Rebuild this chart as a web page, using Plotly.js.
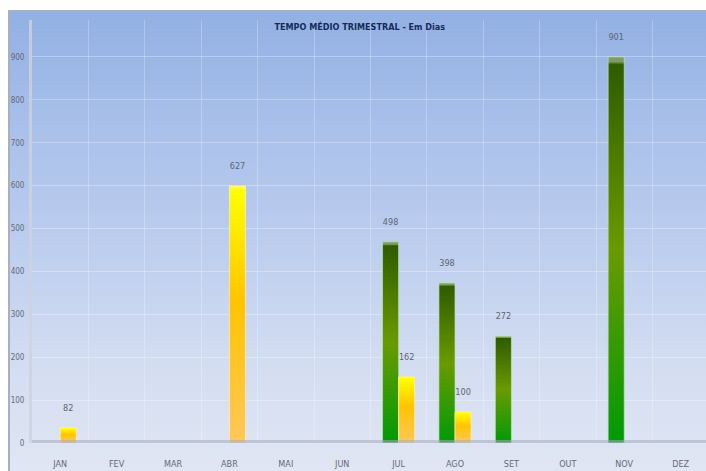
<!DOCTYPE html>
<html>
<head>
<meta charset="utf-8">
<script src="https://cdn.plot.ly/plotly-3.0.1.min.js"></script>
<style>
  html, body { margin:0; padding:0; background:#ffffff; width:706px; height:471px; overflow:hidden; }
  #frame { position:absolute; left:8px; top:10px; width:698px; height:461px;
    border-left:2px solid #a9b0bd; border-top:2px solid #a9b0bd; box-sizing:border-box;
    background: linear-gradient(to bottom, #92b0e3 0%, #a9c0ea 25%, #bccdee 50%, #d2dcf1 75%, #e0e6f3 100%); }
  #chart { position:absolute; left:-2px; top:-2px; width:698px; height:461px; }
</style>
</head>
<body>
<div id="frame"><div id="chart"></div></div>
<script>
// ---- data ----
const months = ['JAN','FEV','MAR','ABR','MAI','JUN','JUL','AGO','SET','OUT','NOV','DEZ'];
const greenValues  = [null, null, null, null, null, null, 469, 373, 249, null, 900, null];
const greenLabels  = ['', '', '', '', '', '', '498', '398', '272', '', '901', ''];
const yellowValues = [35, null, null, 599, null, null, 154, 72, null, null, null, null];
const yellowLabels = ['82', '', '', '627', '', '', '162', '100', '', '', '', ''];
const yTicks = [0, 100, 200, 300, 400, 500, 600, 700, 800, 900];

const narrow = 'Liberation Sans Narrow, DejaVu Sans Condensed, Arial Narrow, sans-serif';
const labelFont = {family:narrow, size:9, color:'#5e6470'};

const greenTrace = {
  type:'bar', x:months, y:greenValues, name:'verde',
  text: greenLabels.map(t => t ? t + '<br> ' : ''), textposition:'outside', cliponaxis:false,
  textfont: labelFont,
  marker:{color:'#4c8a00', line:{color:'rgba(190,225,190,0.7)', width:1}},
  hoverinfo:'x+y'
};
const yellowTrace = {
  type:'bar', x:months, y:yellowValues, name:'amarelo',
  text: yellowLabels.map(t => t ? t + '<br> ' : ''), textposition:'outside', cliponaxis:false,
  textfont: labelFont,
  marker:{color:'#ffc800', line:{color:'rgba(255,240,200,0.7)', width:1}},
  hoverinfo:'x+y'
};

const layout = {
  width:698, height:461,
  margin:{l:24, r:0, t:10, b:28, pad:0},
  paper_bgcolor:'rgba(0,0,0,0)', plot_bgcolor:'rgba(0,0,0,0)',
  showlegend:false,
  barmode:'group', bargap:0.43, bargroupgap:0,
  title:{text:'TEMPO MÉDIO TRIMESTRAL - Em Dias', x:0.504, xanchor:'center', y:0.963, yref:'container', yanchor:'middle',
         font:{family:narrow, size:9, color:'#152a5a', weight:600}},
  xaxis:{type:'category', categoryorder:'array', categoryarray:months, range:[-0.5, 11.45],
         tickson:'boundaries', showgrid:true, gridcolor:'rgba(255,255,255,0.25)', gridwidth:1,
         ticks:'', ticklabelstandoff:14, showline:false, zeroline:false,
         tickfont:{family:narrow, size:9, color:'#646a76'},
         fixedrange:true},
  yaxis:{range:[0, 986], tickmode:'array', tickvals:yTicks, ticktext:yTicks.map(String),
         showgrid:true, gridcolor:'rgba(255,255,255,0.30)', gridwidth:1, zeroline:false,
         showline:true, linecolor:'rgba(205,210,222,0.8)', linewidth:3,
         ticks:'outside', ticklen:3, tickcolor:'rgba(0,0,0,0)',
         tickfont:{family:narrow, size:8, color:'#646a76'},
         fixedrange:true},
  shapes:[{type:'line', xref:'paper', yref:'y', x0:0, x1:1, y0:0, y1:0, layer:'above',
           line:{color:'rgba(165,172,185,0.55)', width:6}}]
};

function addGradients(gd) {
  const svg = gd.querySelector('.main-svg');
  const ns = 'http://www.w3.org/2000/svg';
  let defs = svg.querySelector('defs');
  if (!defs) { defs = document.createElementNS(ns, 'defs'); svg.insertBefore(defs, svg.firstChild); }
  function grad(id, stops) {
    const g = document.createElementNS(ns, 'linearGradient');
    g.setAttribute('id', id); g.setAttribute('x1','0'); g.setAttribute('y1','0'); g.setAttribute('x2','0'); g.setAttribute('y2','1');
    stops.forEach(s => { const st = document.createElementNS(ns, 'stop'); st.setAttribute('offset', s[0]); st.setAttribute('stop-color', s[1]); g.appendChild(st); });
    defs.appendChild(g);
  }
  grad('gGreen', [['0','#7f9c68'],['0.012','#7f9c68'],['0.02','#2f5c00'],['0.5','#6a9a00'],['1','#009a06']]);
  grad('gYellow', [['0','#fff56a'],['0.02','#ffff00'],['0.45','#ffc400'],['1','#ffc75a']]);
  const traces = gd.querySelectorAll('.barlayer .trace');
  traces.forEach((t, i) => {
    t.querySelectorAll('path').forEach(p => { p.style.fill = i === 0 ? 'url(#gGreen)' : 'url(#gYellow)'; p.style.fillOpacity = 1; });
  });
}

Plotly.newPlot('chart', [greenTrace, yellowTrace], layout, {displayModeBar:false, staticPlot:true}).then(addGradients);
</script>
</body>
</html>
